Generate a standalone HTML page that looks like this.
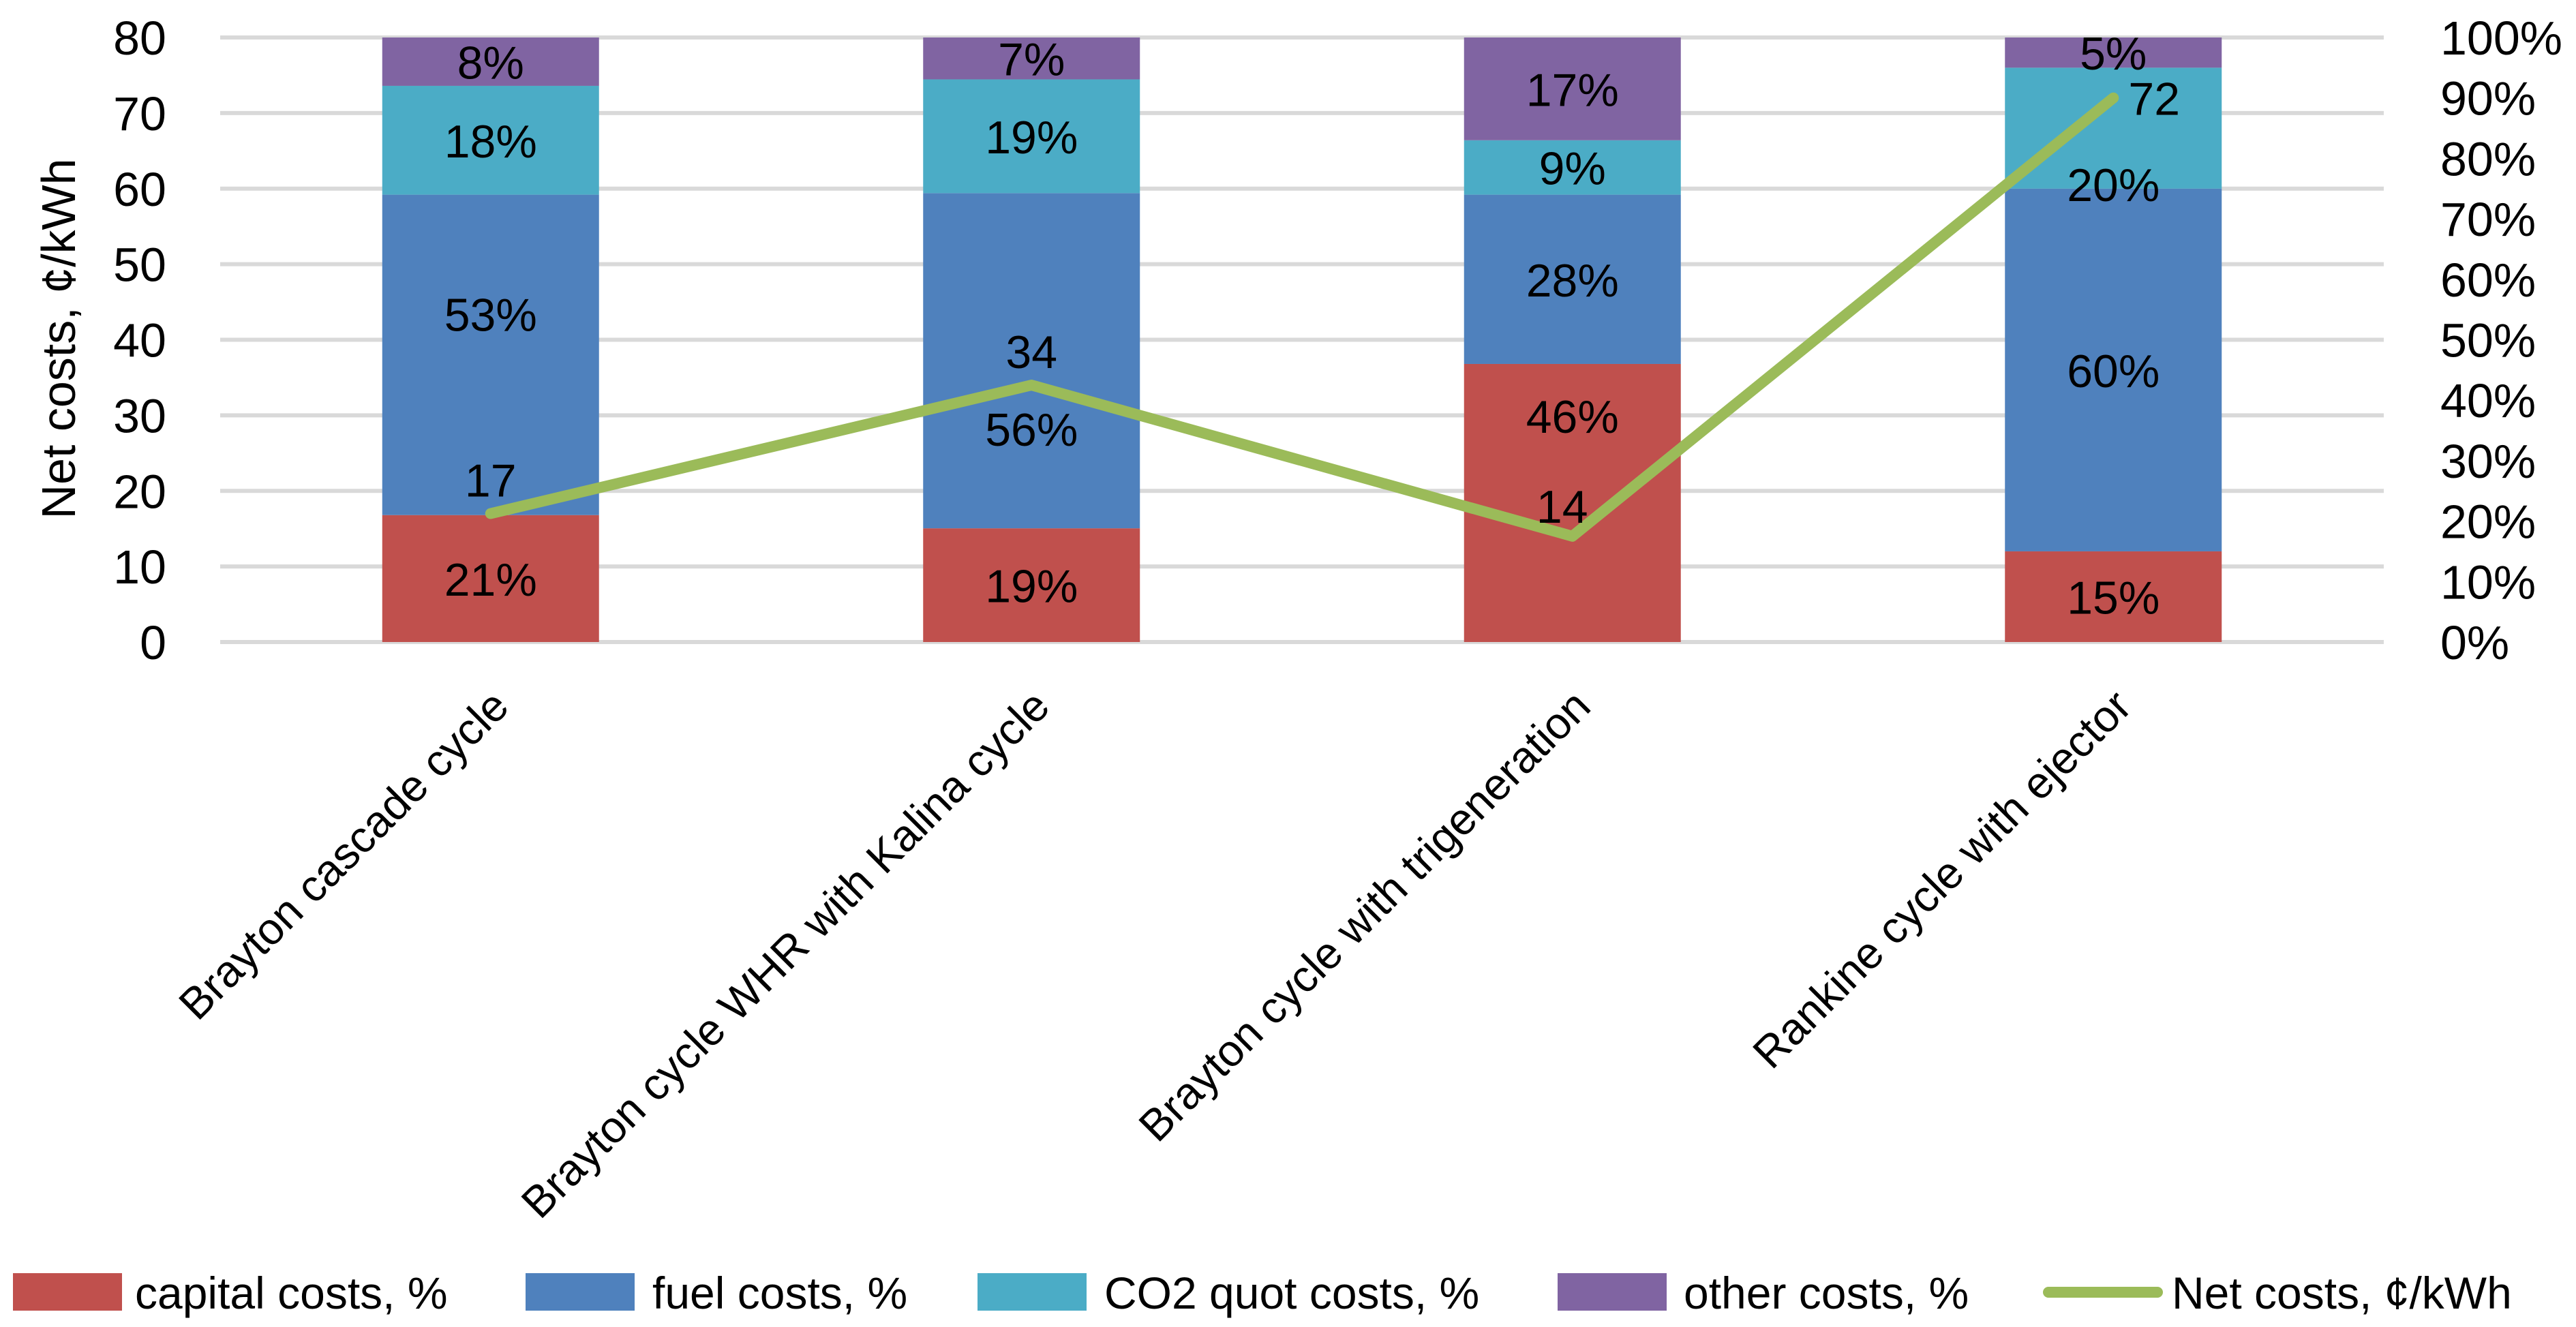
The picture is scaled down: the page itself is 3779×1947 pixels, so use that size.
<!DOCTYPE html>
<html><head><meta charset="utf-8"><style>
html,body{margin:0;padding:0;background:#fff;}
svg{display:block;font-family:"Liberation Sans",sans-serif;}
</style></head><body>
<svg id="chart" width="3779" height="1947" viewBox="0 0 3779 1947" xmlns="http://www.w3.org/2000/svg"></svg>
<script>
const categories = ["Brayton cascade cycle","Brayton cycle WHR with Kalina cycle","Brayton cycle with trigeneration","Rankine cycle with ejector"];
const capitalPct = [21,19,46,15];
const fuelPct = [53,56,28,60];
const co2Pct = [18,19,9,20];
const otherPct = [8,7,17,5];
const netCosts = [17,34,14,72];
const leftTicks = [0,10,20,30,40,50,60,70,80];
const rightTicks = ["0%","10%","20%","30%","40%","50%","60%","70%","80%","90%","100%"];

const NS="http://www.w3.org/2000/svg";
const svg=document.getElementById('chart');
const X0=323,X1=3497,Y0=942,Y1=55;
const yL=v=>Y0-(v/80)*(Y0-Y1);
const yP=p=>Y0-(p/100)*(Y0-Y1);
const band=(X1-X0)/categories.length;
const xC=i=>X0+band*(i+0.5);
const BW=318;
function el(tag,attrs,txt){const e=document.createElementNS(NS,tag);for(const k in attrs)e.setAttribute(k,attrs[k]);if(txt!==undefined)e.textContent=txt;svg.appendChild(e);return e;}

leftTicks.forEach(t=>{
  const g=el('line',{x1:X0,x2:X1,y1:yL(t),y2:yL(t),stroke:'#d9d9d9','stroke-width':6});
  
  
  const l=el('text',{x:244,y:yL(t)+25,'text-anchor':'end','font-size':70,fill:'#000'},String(t));
  
  
});
rightTicks.forEach((t,i)=>{
  const l=el('text',{x:3580,y:yP(i*10)+25,'font-size':70,fill:'#000'},t);
  
  
});
const yt=el('text',{x:0,y:0,'font-size':70,'text-anchor':'middle',fill:'#000',transform:'translate(110,497) rotate(-90)'},'Net costs, ¢/kWh');



// label nudges (layout only) per bar, per series
const nudge=[[0,-60,0,0],[0,100,0,0],[-128,0,0,0],[0,0,82,0]];
const series=[[capitalPct,'#C0504D','capital'],[fuelPct,'#4F81BD','fuel'],[co2Pct,'#4BACC6','co2'],[otherPct,'#8064A2','other']];
categories.forEach((c,i)=>{
  const total=series.reduce((s,a)=>s+a[0][i],0);
  let acc=0;
  series.forEach(([arr,col,nm],k)=>{
    const v=arr[i]/total*100;
    const yt=yP(acc+v),yb=yP(acc);
    const r=el('rect',{x:xC(i)-BW/2,y:yt,width:BW,height:yb-yt,fill:col});
    
    
    const t=el('text',{x:xC(i),y:(yt+yb)/2+25+nudge[i][k],'text-anchor':'middle','font-size':68,fill:'#000'},arr[i]+'%');
    
    
    acc+=v;
  });
  const cl=el('text',{x:0,y:0,'text-anchor':'end','font-size':65,fill:'#000',transform:`translate(${xC(i)+30},1040) rotate(-45)`},c);
  
  
});
const pts=netCosts.map((v,i)=>xC(i)+','+yL(v)).join(' ');
const pl=el('polyline',{points:pts,fill:'none',stroke:'#9BBB59','stroke-width':16,'stroke-linecap':'round','stroke-linejoin':'round'});


const dx=[0,0,-15,60],dy=[-25,-25,-20,25];
netCosts.forEach((v,i)=>{
  const t=el('text',{x:xC(i)+dx[i],y:yL(v)+dy[i],'text-anchor':'middle','font-size':68,fill:'#000'},String(v));
  
  
});
// legend
const leg=[['#C0504D',19,198,'capital costs, %'],['#4F81BD',771,957,'fuel costs, %'],['#4BACC6',1434,1620,'CO2 quot costs, %'],['#8064A2',2285,2470,'other costs, %']];
leg.forEach(([col,x,tx,lab])=>{
  const r=el('rect',{x:x,y:1868,width:160,height:55,fill:col});
  
  
  const t=el('text',{x:tx,y:1920,'font-size':66,fill:'#000'},lab);
  
  
});
const ll=el('line',{x1:3005,x2:3165,y1:1896,y2:1896,stroke:'#9BBB59','stroke-width':16,'stroke-linecap':'round'});


const lt=el('text',{x:3186,y:1920,'font-size':66,fill:'#000'},'Net costs, ¢/kWh');


</script>
</body></html>
